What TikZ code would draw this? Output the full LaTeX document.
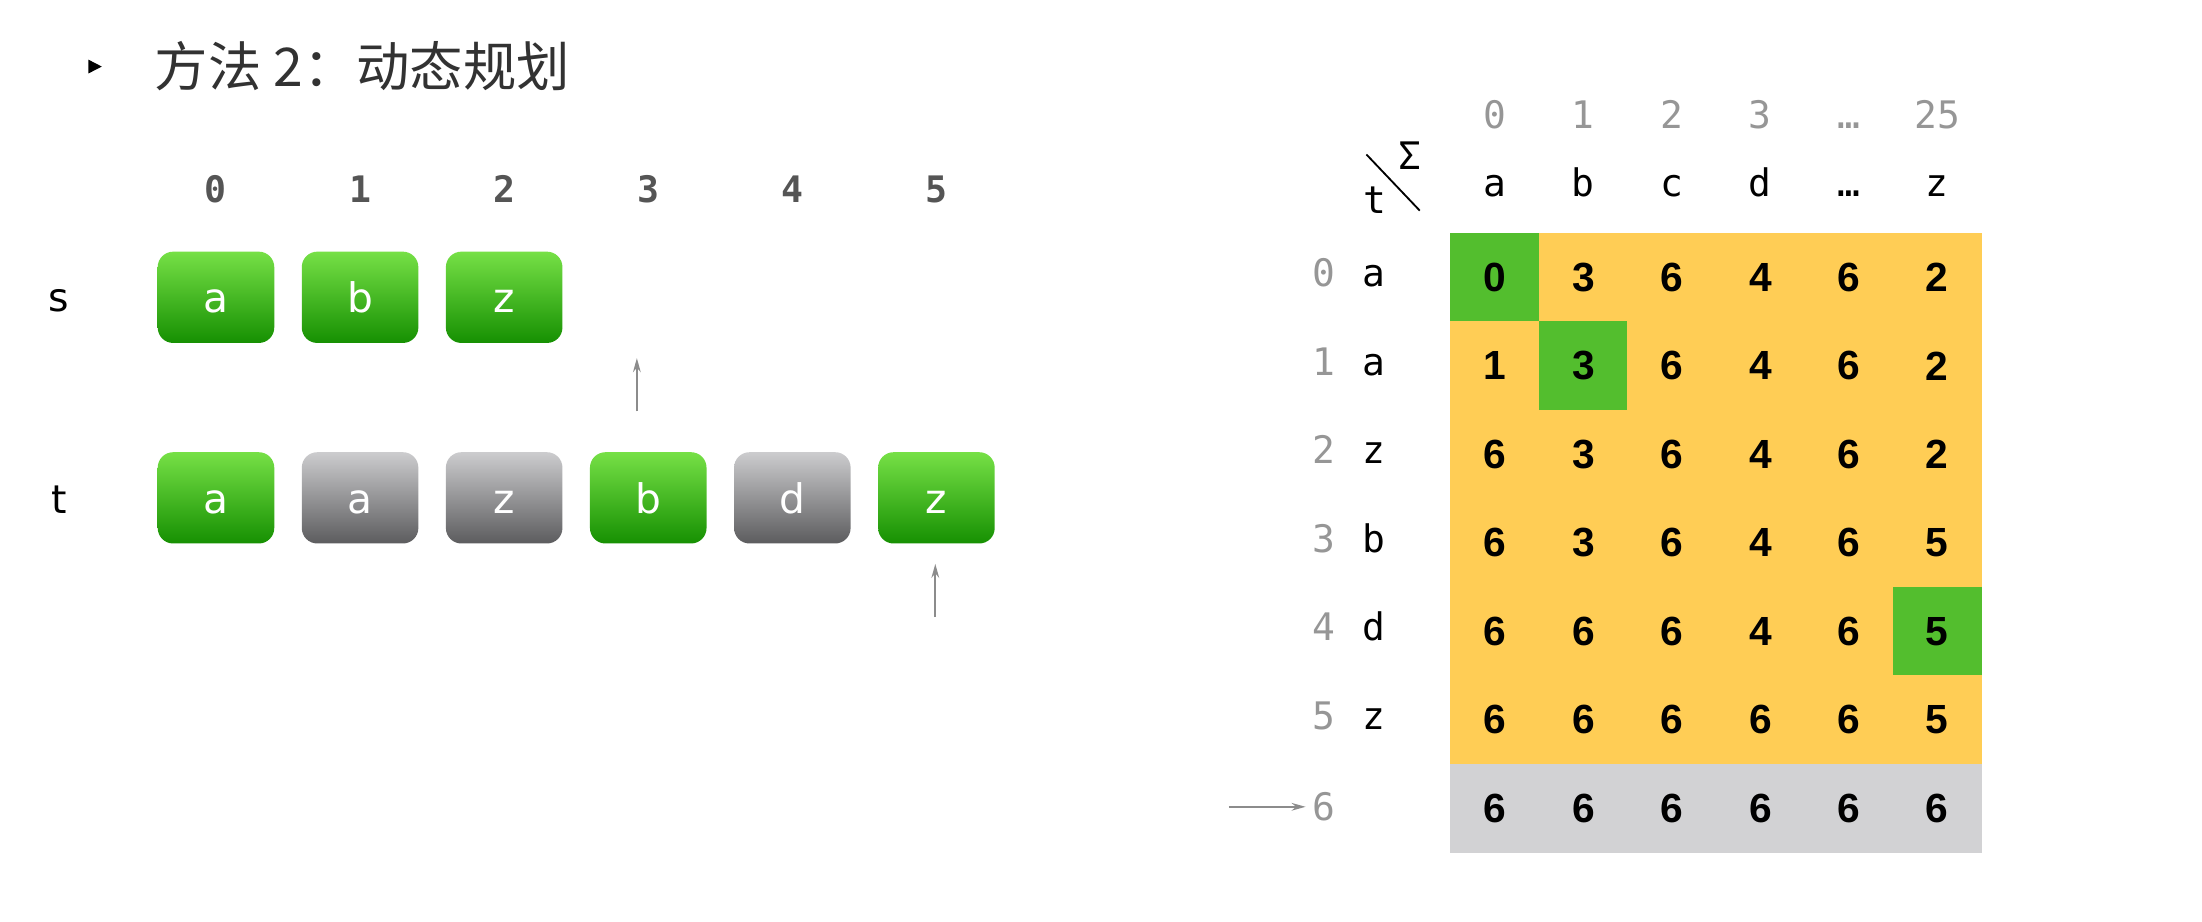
\documentclass[tikz,border=0pt]{standalone}
\usepackage{fontspec}
\setmainfont{Liberation Sans}
\newfontfamily\cjkfont{Noto Sans CJK SC}
\newfontfamily\monofont{DejaVu Sans Mono}
\newfontfamily\boxfont{DejaVu Sans}
\usetikzlibrary{arrows.meta}
\definecolor{gtop}{RGB}{118,224,70}
\definecolor{gbot}{RGB}{22,144,2}
\definecolor{ktop}{RGB}{204,204,206}
\definecolor{kbot}{RGB}{92,92,94}
\definecolor{cellY}{RGB}{255,205,85}
\definecolor{cellG}{RGB}{83,190,46}
\definecolor{cellK}{RGB}{210,210,212}
\definecolor{idxL}{RGB}{85,85,85}
\definecolor{idxR}{RGB}{150,150,150}
\definecolor{arr}{RGB}{140,140,140}
\definecolor{titlec}{RGB}{50,50,50}
\begin{document}
\begin{tikzpicture}[x=1pt,y=-1pt,
  gbox/.style={rounded corners=11pt, minimum width=83pt, minimum height=65pt,
    top color=gtop, bottom color=gbot, text=white, inner sep=0pt,
    text height=22pt, text depth=0pt,
    font=\boxfont\fontsize{29}{29}\selectfont},
  kbox/.style={gbox, top color=ktop, bottom color=kbot},
  lidx/.style={font=\monofont\bfseries\fontsize{26}{26}\selectfont, text=idxL,
    text height=19pt, text depth=0pt, inner sep=0pt},
  rowname/.style={font=\boxfont\fontsize{28}{28}\selectfont, text=black, inner sep=0pt,
    anchor=base},
  hidx/.style={font=\monofont\fontsize{27}{27}\selectfont, text=idxR,
    text height=19.5pt, text depth=0pt, inner sep=0pt},
  hlet/.style={font=\monofont\fontsize{27}{27}\selectfont, text=black,
    text height=19.5pt, text depth=0pt, inner sep=0pt},
  cell/.style={minimum width=63.4pt, minimum height=63.4pt, inner sep=0pt,
    font=\bfseries\fontsize{29}{29}\selectfont, text=black},
  ptr/.style={draw=arr, line width=1.4pt, -{Stealth[length=10pt,width=5.5pt]}}
]
\useasboundingbox (0,0) rectangle (1568,656.5);

% title
\fill[black] (63,42.5) -- (72.5,47.4) -- (63,52.3) -- cycle;
\node[anchor=west, inner sep=0pt, text=titlec, font=\cjkfont\fontsize{38}{38}\selectfont]
  (title) at (110,47.3) {方法 2：动态规划};

% left indices
\foreach \i in {0,...,5} {
  \node[lidx] (li\i) at ({153.8+102.6*\i},134.5) {\i};
}
\node[rowname] (slab) at (42,221.5) {s};
\node[rowname] (tlab) at (42,365.5) {t};

% s boxes
\foreach \ch [count=\i from 0] in {a,b,z} {
  \node[gbox] (s\i) at ({153.8+102.6*\i},211.7) {\ch};
}
% t boxes
\foreach \ch/\st [count=\i from 0] in {a/gbox,a/kbox,z/kbox,b/gbox,d/kbox,z/gbox} {
  \node[\st] (t\i) at ({153.8+102.6*\i},354.5) {\ch};
}

% pointer arrows
\coordinate (p1a) at (453.5,293);
\coordinate (p1b) at (453.5,255);
\draw[ptr] (p1a) -- (p1b);
\coordinate (p2a) at (666,439.5);
\coordinate (p2b) at (666,401.5);
\draw[ptr] (p2a) -- (p2b);

% table header
\foreach \c/\ch [count=\i from 0] in {0/a,1/b,2/c,3/d,…/…,25/z} {
  \node[hidx] (hi\i) at ({1033+63*(\i+0.5)},82) {\c};
  \node[hlet] (hl\i) at ({1033+63*(\i+0.5)},130.5) {\ch};
}
\coordinate (dg1) at (973,110);
\coordinate (dg2) at (1011,150);
\draw[line width=1.3pt] (dg1) -- (dg2);
\node[hlet] (sig) at (1004,111) {Σ};
\node[hlet] (tt) at (979,142) {t};

% table cells
\foreach \r/\vals in {
  0/{0/cellG,3/cellY,6/cellY,4/cellY,6/cellY,2/cellY},
  1/{1/cellY,3/cellG,6/cellY,4/cellY,6/cellY,2/cellY},
  2/{6/cellY,3/cellY,6/cellY,4/cellY,6/cellY,2/cellY},
  3/{6/cellY,3/cellY,6/cellY,4/cellY,6/cellY,5/cellY},
  4/{6/cellY,6/cellY,6/cellY,4/cellY,6/cellY,5/cellG},
  5/{6/cellY,6/cellY,6/cellY,6/cellY,6/cellY,5/cellY},
  6/{6/cellK,6/cellK,6/cellK,6/cellK,6/cellK,6/cellK}} {
  \foreach \v/\f [count=\j from 0] in \vals {
    \node[cell, fill=\f] (c\r-\j) at ({1033+63*(\j+0.5)},{166+63*(\r+0.5)}) {\v};
  }
}

% row labels
\foreach \ch [count=\r from 0] in {a,a,z,b,d,z} {
  \node[hidx] (rn\r) at (943,{166+63*(\r+0.5)-3}) {\r};
  \node[hlet] (rl\r) at (978,{166+63*(\r+0.5)-3}) {\ch};
}
\node[hidx] (rn6) at (943,574.5) {6};
\coordinate (r6a) at (875,574.5);
\draw[ptr, line width=1.2pt, shorten >=5pt] (r6a) -- (rn6.west);
\end{tikzpicture}
\end{document}
